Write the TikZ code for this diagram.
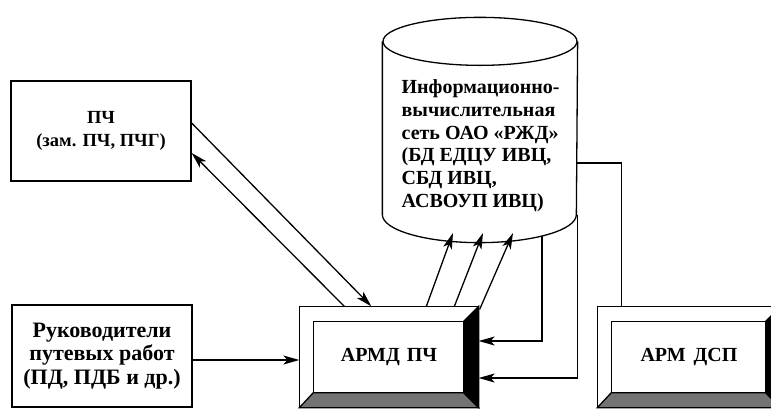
\documentclass[tikz,border=0pt]{standalone}
\usepackage{fontspec}
\setmainfont{Liberation Serif}
\usetikzlibrary{arrows.meta,calc}
\begin{document}
\begin{tikzpicture}[x=1pt,y=-1pt,
  line width=1.3pt,
  arr/.style={-{Stealth[length=16pt,width=9pt,inset=4pt]}},
  plainbox/.style={draw, minimum width=180pt, minimum height=100pt, align=center,
    font=\fontsize{18.5}{23}\selectfont\bfseries, inner sep=0pt},
  rukfont/.style={font=\fontsize{22}{23.5}\selectfont\bfseries},
  armbox/.style={minimum width=178pt, minimum height=100pt, inner sep=0pt,
    font=\fontsize{20}{23}\selectfont\bfseries},
  txt/.style={font=\fontsize{20}{22.8}\selectfont\bfseries, align=left, inner sep=0pt}
]
\useasboundingbox (0,0) rectangle (771,408);
\clip (0,0) rectangle (771,408);

% left boxes
\node[plainbox] (pch) at (101,131) {ПЧ\\(зам. ПЧ, ПЧГ)};
\node[plainbox, rukfont, minimum height=102pt] (ruk) at (102,356) {Руководители\\путевых работ\\(ПД, ПДБ и др.)};

% workstation boxes
\node[armbox] (armd) at (389,357) {АРМД\hspace{0.35em}ПЧ};
\node[armbox, minimum width=182pt] (dsp) at (689,357) {АРМ\hspace{0.4em}ДСП};
\foreach \n in {armd,dsp}{
  \draw[fill=black!55] (\n.south west) -- ($(\n.south west)+(14,-15)$) -- ($(\n.south east)+(-15,-15)$) -- (\n.south east) -- cycle;
  \draw[fill=black] (\n.north east) -- ($(\n.north east)+(-15,15)$) -- ($(\n.south east)+(-15,-15)$) -- (\n.south east) -- cycle;
  \draw (\n.north west) rectangle (\n.south east);
  \draw ($(\n.north west)+(14,15)$) rectangle ($(\n.south east)+(-15,-15)$);
}

% cylinder
\node[minimum width=194pt, minimum height=172pt, inner sep=0pt] (db) at (480,128) {};
\draw (db.north west) -- (db.south west) arc[start angle=180, end angle=360, x radius=97pt, y radius=28pt] -- (db.north east);
\draw (db.north) ellipse [x radius=97pt, y radius=24pt];
\node[txt, anchor=north west] (dbtxt) at (401,79) {Информационно-\\вычислительная\\сеть ОАО «РЖД»\\(БД ЕДЦУ ИВЦ,\\СБД ИВЦ,\\АСВОУП ИВЦ)};

% named points on the cylinder
\coordinate (dbA) at (453,233);
\coordinate (dbB) at (483,233);
\coordinate (dbC) at (513,233);
\coordinate (dbD) at (542,236);
\coordinate (dbE) at (577,163);

% connectors
\draw[arr] ($(pch.east)+(0,-8)$) -- ($(armd.north west)+(72,0)$);
\draw[arr] ($(armd.north west)+(45,0)$) -- ($(pch.east)+(0,22)$);
\draw[arr] ($(armd.north west)+(127,0)$) -- (dbA);
\draw[arr] ($(armd.north west)+(155,0)$) -- (dbB);
\draw[arr] ($(armd.north east)+(1,3)$) -- (dbC);
\draw[arr] (dbD) |- ($(armd.east)+(0,-16)$);
\draw[arr] (db.south east) |- ($(armd.east)+(0,21)$);
\draw (dbE) -| ($(dsp.north west)+(24,0)$);
\draw[arr] ($(ruk.east)+(0,4)$) -- ($(armd.west)+(0,3)$);
\end{tikzpicture}
\end{document}
